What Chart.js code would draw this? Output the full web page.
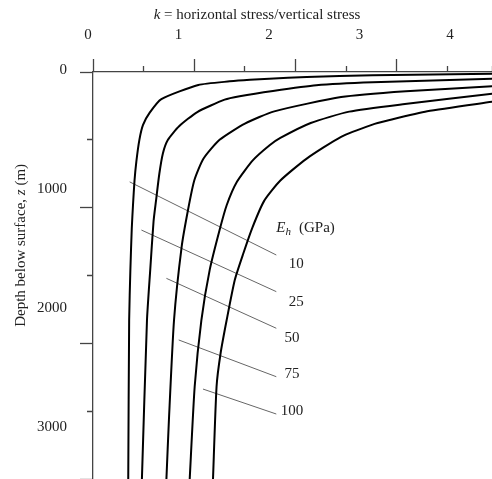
<!DOCTYPE html>
<html>
<head>
<meta charset="utf-8">
<style>
  html, body { margin: 0; padding: 0; background: #fff; }
  canvas { display: block; }
</style>
<script src="https://cdn.jsdelivr.net/npm/chart.js@4.4.1/dist/chart.umd.min.js"></script>
</head>
<body>
<canvas id="stress-chart" width="492" height="479"></canvas>
<script>
/* ---- DATA ---- */
// Eh in GPa, one curve each
const EH = [10, 25, 50, 75, 100];

// k = horizontal/vertical stress, z = depth (m)
const k10  = [3.95, 2.76, 2.11, 1.74, 1.55, 1.35, 1.04, 0.675, 0.56, 0.494, 0.458, 0.428, 0.41, 0.395, 0.383, 0.369, 0.357, 0.348];
const z10  = [12,   24,   37,   49,   57,   69,   96,   200,   300,  390,   500,   660,   800,  980,   1150,  1460,  1830,  3000];

const k25  = [3.95, 2.76, 2.205, 1.777, 1.448, 1.30, 1.03, 0.85, 0.74, 0.69, 0.655, 0.622, 0.598, 0.565, 0.533, 0.483];
const z25  = [50,   76,   98,    140,   179,   204,  295,  400,  500,  600,  750,   950,   1100,  1460,  1830,  3000];

const k50  = [3.95, 3.09, 2.45, 1.79, 1.50, 1.25, 1.09, 1.00, 0.94, 0.875, 0.80, 0.75, 0.725];
const z50  = [105,  142,  185,  290,  380,  500,  640,  800,  1010, 1290,  1830, 2560, 3000];

const k75  = [3.95, 3.08, 2.53, 2.15, 1.85, 1.744, 1.58, 1.42, 1.32, 1.25, 1.152, 1.07, 1.004, 0.955];
const z75  = [160,  236,  292,  376,  486,  540,   650,  811,  982,  1165, 1460,  1830, 2320,  3000];

const k100 = [3.95, 3.30, 2.90, 2.76, 2.45, 2.107, 1.85, 1.69, 1.575, 1.485, 1.40, 1.32, 1.26, 1.22, 1.185];
const z100 = [219,  290,  360,  388,  478,  640,   800,  950,  1145,  1336,  1533, 1828, 2073, 2320, 3000];

const CURVES = [[k10, z10], [k25, z25], [k50, z50], [k75, z75], [k100, z100]];

// leader lines from each curve out to its Eh label
const leadFromK = [0.362, 0.478, 0.725, 0.846, 1.086];
const leadFromZ = [810, 1165, 1521, 1975, 2337];
const leadToK   = [1.81, 1.81, 1.81, 1.81, 1.81];
const leadToZ   = [1349, 1619, 1889, 2246, 2521];

// Eh label anchors
const labelK = [2.008, 2.008, 1.964, 1.964, 1.964];
const labelZ = [1415, 1693, 1958, 2228, 2497];
const headK = 1.81, headZ = 1153;   // "Eh (GPa)"

// tick labels
const kLabels = [0, 1, 2, 3, 4];
const zLabels = [0, 1000, 2000, 3000];

/* ---- STYLE ---- */
const SERIF = '"Liberation Serif", "Times New Roman", serif';
const TEXT = '#222';
const AXIS = '#444';

/* ---- ANNOTATIONS ---- */
function runsWidth(ctx, runs) {
  return runs.reduce((w, r) => { ctx.font = r.f; return w + ctx.measureText(r.t).width + (r.gap || 0); }, 0);
}
function drawRuns(ctx, runs, x, y) {
  let cx = x;
  runs.forEach(r => {
    ctx.font = r.f;
    ctx.fillText(r.t, cx, y + (r.dy || 0));
    cx += ctx.measureText(r.t).width + (r.gap || 0);
  });
}

const annotate = {
  id: 'annotate',
  afterDraw(chart) {
    const { ctx, scales: { x, y, y2 } } = chart;
    ctx.save();
    ctx.fillStyle = TEXT;
    ctx.textBaseline = 'middle';

    // Eh values at the leader ends
    ctx.textAlign = 'center';
    ctx.font = `15px ${SERIF}`;
    EH.forEach((e, i) => {
      ctx.fillText(String(e), x.getPixelForValue(labelK[i]), y.getPixelForValue(labelZ[i]));
    });

    ctx.textAlign = 'left';
    drawRuns(ctx, [
      { t: 'E', f: `italic 15px ${SERIF}` },
      { t: 'h', f: `italic 11px ${SERIF}`, dy: 4, gap: 8 },
      { t: '(GPa)', f: `15px ${SERIF}` },
    ], x.getPixelForValue(headK), y.getPixelForValue(headZ));

    // top title
    const top = [
      { t: 'k', f: `italic 15px ${SERIF}` },
      { t: ' = horizontal stress/vertical stress', f: `15px ${SERIF}` },
    ];
    const tx = x.getPixelForValue(1.62) - runsWidth(ctx, top) / 2;
    drawRuns(ctx, top, tx, 15);

    // left title, rotated
    const side = [
      { t: 'Depth below surface, ', f: `15px ${SERIF}` },
      { t: 'z', f: `italic 15px ${SERIF}` },
      { t: ' (m)', f: `15px ${SERIF}` },
    ];
    ctx.translate(y2.left + 21, y.getPixelForValue(1278));
    ctx.rotate(-Math.PI / 2);
    drawRuns(ctx, side, -runsWidth(ctx, side) / 2, 0);
    ctx.restore();
  }
};

/* ---- CHART ---- */
const datasets = [
  ...CURVES.map(([ks, zs], i) => ({
    label: `Eh ${EH[i]}`,
    data: ks.map((k, j) => ({ x: k, y: zs[j] })),
    showLine: true,
    borderColor: '#000',
    borderWidth: 2,
    pointRadius: 0,
    tension: 0.2,
  })),
  ...EH.map((e, i) => ({
    label: `lead ${e}`,
    data: [{ x: leadFromK[i], y: leadFromZ[i] }, { x: leadToK[i], y: leadToZ[i] }],
    showLine: true,
    borderColor: '#666',
    borderWidth: 1,
    pointRadius: 0,
  })),
];

const minorDash = c => (c.tick && Math.abs(c.tick.value % (c.scale.axis === 'x' ? 1 : 1000)) > 1e-6) ? [0, 7, 20] : [];

new Chart(document.getElementById('stress-chart').getContext('2d'), {
  type: 'scatter',
  data: { datasets },
  plugins: [annotate],
  options: {
    responsive: false,
    animation: false,
    events: [],
    layout: { padding: 0 },
    plugins: { legend: { display: false }, tooltip: { enabled: false } },
    scales: {
      x: {
        type: 'linear', position: 'top', weight: 0,
        min: 0, max: 3.94,
        ticks: { display: false, stepSize: 0.5 },
        grid: { drawOnChartArea: false, tickLength: 13, tickColor: AXIS, tickWidth: 1.3, tickBorderDash: minorDash },
        border: { display: true, color: AXIS, width: 1.3 },
        afterFit: s => { s.height = 13; s.paddingLeft = 0; s.paddingRight = 0; },
      },
      y: {
        type: 'linear', position: 'left', weight: 0, reverse: true,
        min: 0, max: 3000,
        ticks: { display: false, stepSize: 500 },
        grid: { drawOnChartArea: false, tickLength: 13, tickColor: AXIS, tickWidth: 1.3, tickBorderDash: minorDash },
        border: { display: true, color: AXIS, width: 1.3 },
        afterFit: s => { s.width = 13; s.paddingTop = 0; s.paddingBottom = 0; },
      },
      // label axes: the printed numbers sit on their own spacing
      x2: {
        type: 'linear', position: 'top', weight: 1,
        min: 0.0552, max: 4.464,
        grid: { display: false }, border: { display: false },
        ticks: { autoSkip: false, padding: 7, color: TEXT, font: { family: SERIF, size: 15 }, maxRotation: 0, callback: v => String(v) },
        afterBuildTicks: s => { s.ticks = kLabels.map(v => ({ value: v })); },
        afterFit: s => { s.height = 59; s.paddingLeft = 0; s.paddingRight = 0; },
      },
      y2: {
        type: 'linear', position: 'left', weight: 1, reverse: true,
        min: 16.8, max: 3437,
        grid: { display: false }, border: { display: false },
        ticks: { autoSkip: false, padding: 5, color: TEXT, font: { family: SERIF, size: 15 }, callback: v => String(v) },
        afterBuildTicks: s => { s.ticks = zLabels.map(v => ({ value: v })); },
        afterFit: s => { s.width = 80; s.paddingTop = 0; s.paddingBottom = 0; },
      },
    },
  },
});
</script>
</body>
</html>
